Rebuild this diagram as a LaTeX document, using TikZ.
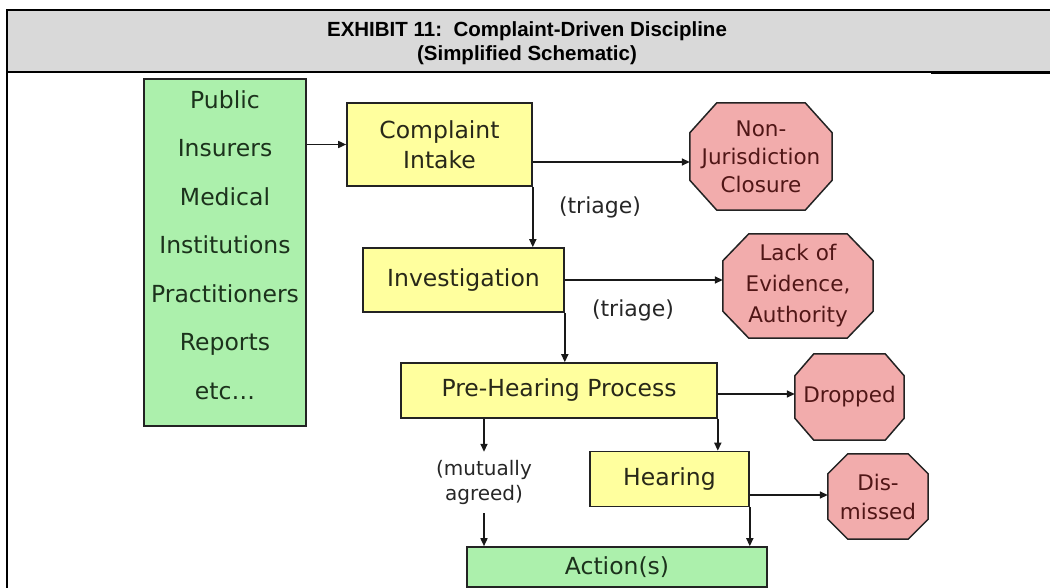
\documentclass[tikz,border=0pt]{standalone}
\usepackage{fontspec}
\setmainfont{DejaVu Sans}
\newfontfamily\titlefont{Liberation Sans}
\usetikzlibrary{arrows.meta,backgrounds}

\definecolor{boxgreen}{RGB}{172,240,172}
\definecolor{boxyellow}{RGB}{255,255,158}
\definecolor{boxpink}{RGB}{242,172,172}
\definecolor{titlegray}{RGB}{217,217,217}
\definecolor{edgecol}{RGB}{35,35,35}
\definecolor{greentext}{RGB}{28,50,28}
\definecolor{yellowtext}{RGB}{40,40,25}
\definecolor{pinktext}{RGB}{80,22,22}

\newcommand\drawocta[3]{%
  \filldraw[octline] ([xshift=#2]#1.north west) -- ([xshift=-#2]#1.north east)
    -- ([yshift=-#3]#1.north east) -- ([yshift=#3]#1.south east)
    -- ([xshift=-#2]#1.south east) -- ([xshift=#2]#1.south west)
    -- ([yshift=#3]#1.south west) -- ([yshift=-#3]#1.north west) -- cycle;}

\tikzset{
  gbox/.style={draw=edgecol, fill=boxgreen, line width=1.6pt, inner sep=0pt},
  ybox/.style={draw=edgecol, fill=boxyellow, line width=1.6pt, inner sep=0pt,
    align=center, text=yellowtext, font=\fontsize{23.5}{31}\selectfont},
  octbox/.style={inner sep=0pt, align=center, text=pinktext,
    font=\fontsize{21.5}{28}\selectfont},
  octline/.style={draw=edgecol, fill=boxpink, line width=1.5pt},
  lbl/.style={inner sep=0pt, align=center, text=black!85,
    font=\fontsize{22}{25}\selectfont},
  arr/.style={line width=1.6pt, draw=black!90,
    -{Triangle[length=8pt,width=7pt]}},
}

\begin{document}
\begin{tikzpicture}[x=1pt,y=-1pt]
\useasboundingbox (0,0) rectangle (1050,588);

% frame and title band
\fill[titlegray] (7,10) rectangle (1050,72);
\draw[line width=2pt] (1050,10) -- (7,10) -- (7,588);
\draw[line width=1.6pt] (7,72) -- (931,72);
\draw[line width=2.6pt] (931,72.5) -- (1050,72.5);
\node[font=\titlefont\bfseries\fontsize{20.5}{24}\selectfont, align=center, inner sep=0pt]
  (title) at (527,43) {EXHIBIT 11:\ \ Complaint-Driven Discipline\\(Simplified Schematic)};

% sources
\node[gbox, minimum width=162pt, minimum height=347pt] (src) at (225,252.5) {};
\node[inner sep=0pt, align=center, text=greentext,
      font=\fontsize{23.5}{48.5}\selectfont] (srct) at (225,245)
  {Public\\Insurers\\Medical\\Institutions\\Practitioners\\Reports\\etc\ldots};

% process boxes
\node[ybox, minimum width=185pt, minimum height=83pt] (ci) at (439.5,144.5) {Complaint\\[-0.5pt]Intake};
\node[ybox, minimum width=201pt, minimum height=64pt] (inv) at (463.5,280) {Investigation};
\node[ybox, minimum width=316pt, minimum height=55pt] (ph) at (559,390.5) {Pre-Hearing Process};
\node[ybox, minimum width=159pt, minimum height=55pt] (hr) at (669.5,479) {Hearing};
\node[gbox, minimum width=300pt, minimum height=40pt, text=greentext,
      font=\fontsize{23.5}{28}\selectfont] (act) at (617,567) {Action(s)};

% outcome octagons
\node[octbox, minimum width=142pt, minimum height=107pt] (nj) at (761,156.5) {Non-\\Jurisdiction\\Closure};
\node[octbox, minimum width=150pt, minimum height=104pt, font=\fontsize{21.5}{31}\selectfont] (le) at (798,286) {Lack of\\Evidence,\\Authority};
\node[octbox, minimum width=109pt, minimum height=86pt] (dr) at (849.5,397) {Dropped};
\node[octbox, minimum width=100pt, minimum height=85pt, font=\fontsize{21.5}{29}\selectfont] (di) at (878,496.5) {Dis-\\missed};
\begin{scope}[on background layer]
  \drawocta{nj}{27pt}{30pt}
  \drawocta{le}{26pt}{27pt}
  \drawocta{dr}{19pt}{22pt}
  \drawocta{di}{20pt}{20pt}
\end{scope}

% labels
\node[lbl] (t1) at (600,207) {(triage)};
\node[lbl] (t2) at (633,310) {(triage)};
\node[lbl, font=\fontsize{20}{25}\selectfont, minimum height=61pt] (ma) at (484,482.5) {(mutually\\agreed)};

% connectors
\draw[arr] (src.east |- ci.west) -- (ci.west);
\draw[arr] (ci.east |- 0,162) -- (nj.west |- 0,162);
\draw[arr] (ci.south east) -- (ci.south east |- inv.north);
\draw[arr] (inv.east) -- (inv.east -| le.west);
\draw[arr] (inv.south east) -- (inv.south east |- ph.north);
\draw[arr] (ph.east |- 0,394) -- (dr.west |- 0,394);
\draw[arr] (ph.south east) -- (ph.south east |- hr.north);
\draw[arr] (ph.south -| ma.north) -- (ma.north);
\draw[arr] (ma.south) -- (ma.south |- act.north);
\draw[arr] (hr.east |- 0,495) -- (di.west |- 0,495);
\draw[arr] (hr.south east) -- (hr.south east |- act.north);
\end{tikzpicture}
\end{document}
